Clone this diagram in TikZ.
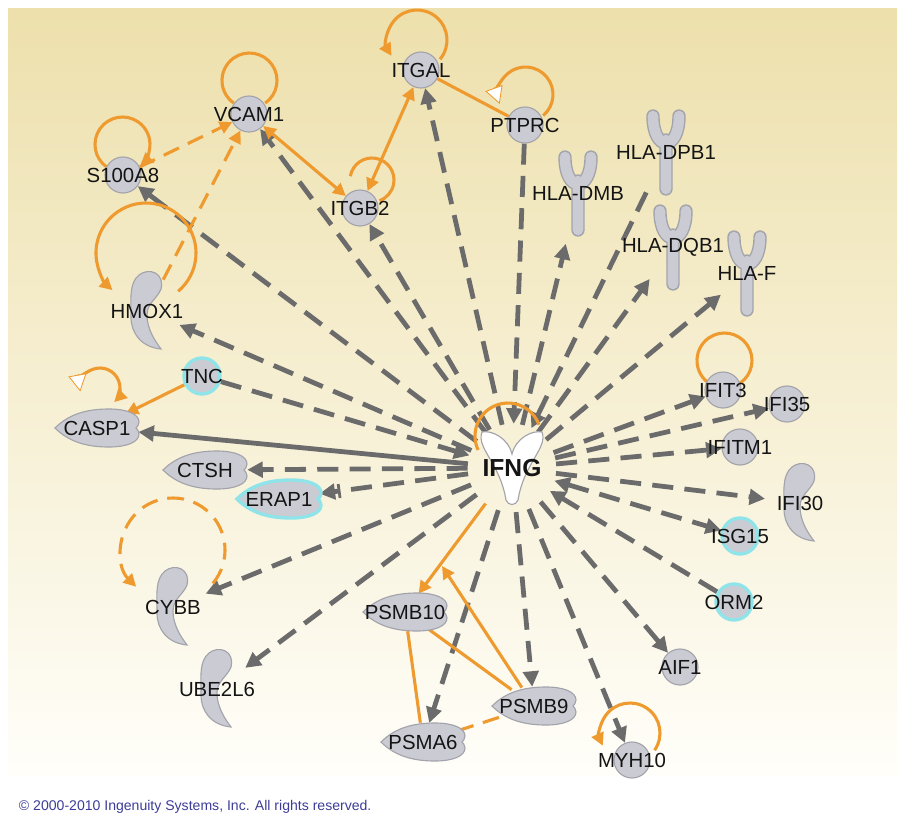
\documentclass[tikz,border=0pt]{standalone}
\usepackage{fontspec}
\setmainfont{Liberation Sans}
\usetikzlibrary{arrows.meta,shapes.geometric}
\pgfdeclarelayer{back}
\pgfdeclarelayer{links}
\pgfsetlayers{back,links,main}
\definecolor{linkgray}{HTML}{6B6B6B}
\definecolor{ipaorange}{HTML}{EE9A2E}
\definecolor{genegray}{HTML}{CBCBD3}
\definecolor{generim}{HTML}{A3A3AB}
\definecolor{fdrcyan}{HTML}{8FE4EA}
\definecolor{bgtop}{HTML}{EDE0AC}
\definecolor{bgmid}{HTML}{F8F3DC}
\definecolor{bgbot}{HTML}{FFFEF9}
\definecolor{copyblue}{HTML}{3D3D99}

\begin{document}
\begin{tikzpicture}[x=0.025cm,y=0.025cm,
    every label/.style={font=\fontsize{14.5}{16}\selectfont,text=black!92,inner sep=0pt},
    shapefill/.style={fill=genegray,draw=generim,line width=0.8pt},
    gene/.style={circle,minimum size=0.9cm,inner sep=0pt,shapefill},
    fdr/.style={draw=fdrcyan,line width=2.4pt},
    pept/.style={ellipse,minimum width=2.1cm,minimum height=0.95cm,inner sep=0pt},
    enz/.style={circle,minimum size=1.75cm,inner sep=0pt},
    recep/.style={ellipse,minimum width=1.4cm,minimum height=2.8cm,inner sep=0pt},
    hub/.style={circle,minimum size=2.2cm,inner sep=0pt},
    gtip/.tip={Triangle[length=11pt,width=11pt]},
    otip/.tip={Triangle[length=9pt,width=9pt]},
    wtip/.tip={Triangle[length=12pt,width=13pt,fill=white,line width=0.6pt]},
    glink/.style={linkgray,line width=3.4pt,dash pattern=on 15pt off 8pt,-{gtip}},
    olink/.style={ipaorange,line width=2.2pt},
    odash/.style={olink,dash pattern=on 12pt off 7pt},
    pics/peptide/.style={code={
      \path[shapefill,#1] (-42,0) .. controls (-28,14) and (-10,19) .. (12,19)
        .. controls (30,19) and (42,14) .. (42,6) .. controls (42,3) and (40,1) .. (39,0)
        .. controls (40,-1) and (42,-3) .. (42,-6) .. controls (42,-14) and (30,-19) .. (12,-19)
        .. controls (-10,-19) and (-28,-14) .. cycle;}},
    pics/peptide/.default={},
    pics/enzyme/.style={code={
      \path[shapefill] (-8,36) .. controls (2,44) and (18,38) .. (14,22)
        .. controls (10,12) and (0,8) .. (0,-4) .. controls (0,-18) and (8,-30) .. (14,-38)
        .. controls (-6,-36) and (-16,-22) .. (-16,-6) .. controls (-16,12) and (-18,28) .. cycle;}},
    pics/receptor/.style={code={
      \draw[generim,line width=9.5pt,line cap=round] (-13,36) .. controls (-13,0) and (13,0) .. (13,36) (0,12) -- (0,-37);
      \draw[genegray,line width=7.5pt,line cap=round] (-13,36) .. controls (-13,0) and (13,0) .. (13,36) (0,12) -- (0,-37);}},
    pics/ligand/.style={code={
      \path[fill=white,draw=generim,line width=0.8pt] (-30,36) .. controls (-36,20) and (-12,5) .. (-6,-32)
        .. controls (-4,-38) and (4,-38) .. (6,-32) .. controls (12,5) and (36,20) .. (30,36)
        .. controls (20,38) and (4,30) .. (0,14) .. controls (-4,30) and (-20,38) .. cycle;}},
  ]
  \useasboundingbox (0,0) rectangle (904,-818);
  \begin{pgfonlayer}{back}
    \shade[top color=bgtop,middle color=bgmid,bottom color=bgbot] (8,-8) rectangle (897,-775);
  \end{pgfonlayer}

  % hub
  \pic at (512,-468) {ligand};
  \node[hub,label={[font=\bfseries\fontsize{17.5}{19}\selectfont]center:IFNG}] (ifng) at (512,-468) {};

  % circles
  \node[gene,label=center:ITGAL]  (itgal)  at (421,-70) {};
  \node[gene,label=center:VCAM1]  (vcam1)  at (249,-114) {};
  \node[gene,label=center:S100A8] (s100a8) at (123,-175) {};
  \node[gene,label=center:ITGB2]  (itgb2)  at (360,-208) {};
  \node[gene,label=center:PTPRC]  (ptprc)  at (525,-125) {};
  \node[gene,fdr,label=center:TNC] (tnc)   at (202,-376) {};
  \node[gene,label=center:IFIT3]  (ifit3)  at (723,-390) {};
  \node[gene,label=center:IFI35]  (ifi35)  at (787,-404) {};
  \node[gene,label=center:IFITM1] (ifitm1) at (740,-447) {};
  \node[gene,fdr,label=center:ISG15] (isg15) at (740,-536) {};
  \node[gene,fdr,label=center:ORM2]  (orm2)  at (734,-602) {};
  \node[gene,label=center:AIF1]   (aif1)   at (680,-667) {};
  \node[gene,label=center:MYH10]  (myh10)  at (632,-760) {};

  % peptidases
  \pic at (97,-428) {peptide};  \node[pept,label=center:CASP1] (casp1) at (97,-428) {};
  \pic at (205,-470) {peptide}; \node[pept,label=center:CTSH] (ctsh) at (205,-470) {};
  \pic at (279,-499) {peptide={draw=fdrcyan,line width=2.4pt}}; \node[pept,label=center:ERAP1] (erap1) at (279,-499) {};
  \pic at (405,-612) {peptide}; \node[pept,label=center:PSMB10] (psmb10) at (405,-612) {};
  \pic at (423,-742) {peptide}; \node[pept,label=center:PSMA6] (psma6) at (423,-742) {};
  \pic at (534,-706) {peptide}; \node[pept,label=center:PSMB9] (psmb9) at (534,-706) {};
  \coordinate (psmb10in) at (442,-566);

  % enzymes
  \pic at (147,-311) {enzyme}; \node[enz,label=center:HMOX1] (hmox1) at (147,-311) {};
  \pic at (173,-607) {enzyme}; \node[enz,label=center:CYBB] (cybb) at (173,-607) {};
  \pic at (217,-689) {enzyme}; \node[enz,label=center:UBE2L6] (ube2l6) at (217,-689) {};
  \pic at (800,-503) {enzyme}; \node[enz,label=center:IFI30] (ifi30) at (800,-503) {};

  % receptors
  \pic at (578,-193) {receptor}; \node[recep,label=center:HLA-DMB] (hladmb) at (578,-193) {};
  \pic at (666,-152) {receptor}; \node[recep,label=center:HLA-DPB1] (hladpb1) at (666,-152) {};
  \pic at (673,-247) {receptor}; \node[recep,label=center:HLA-DQB1] (hladqb1) at (673,-247) {};
  \pic at (747,-273) {receptor}; \node[recep,label=center:HLA-F] (hlaf) at (747,-273) {};

  \node[anchor=west,font=\fontsize{10}{12}\selectfont,text=copyblue] (note) at (14,-807)
    {© 2000-2010 Ingenuity Systems, Inc. All rights reserved.};

  \begin{pgfonlayer}{links}
    % gray links
    \foreach \g in {itgal,vcam1,s100a8,itgb2,hmox1,hladmb,hladqb1,hlaf,ifit3,ifi35,
                    ifitm1,ifi30,aif1,myh10,psmb9,psma6,ube2l6,cybb,ctsh}
      \draw[glink] (ifng) -- (\g);
    \foreach \g in {ptprc,hladpb1,tnc,orm2}
      \draw[glink] (\g) -- (ifng);
    \draw[glink,{gtip}-{gtip}] (ifng) -- (isg15);
    \draw[glink,-{Bar[width=10pt,line width=2pt,sep=2pt] gtip}] (ifng) -- (erap1);
    \draw[glink,solid] (ifng) -- (casp1);

    % orange links
    \draw[odash,-{otip}] (s100a8) -- (vcam1);
    \draw[odash,-{otip}] (hmox1) -- (vcam1);
    \draw[olink,{otip}-{otip}] (vcam1) -- (itgb2);
    \draw[olink,{otip}-{otip}] (itgb2) -- (itgal);
    \draw[olink] (itgal) -- (ptprc);
    \draw[olink,-{otip}] (tnc) -- (casp1);
    \draw[olink,-{otip}] (ifng) -- (psmb10);
    \draw[olink,-{otip}] (psmb9) -- (psmb10in);
    \draw[olink] (psmb10) -- (psmb9);
    \draw[olink] (psmb10) -- (psma6);
    \draw[odash] (psma6) -- (psmb9);

    % self loops
    \draw[olink,-{otip}] ([shift={(-40:30)}]417,-40) arc[start angle=-40,end angle=212,radius=30];
    \draw[olink] ([shift={(-55:27.5)}]249.5,-80.5) arc[start angle=-55,end angle=235,radius=27.5];
    \draw[olink,-{otip}] ([shift={(235:27.5)}]122.5,-144.5) arc[start angle=235,end angle=-50,radius=27.5];
    \draw[olink] ([shift={(170:22)}]372,-180) arc[start angle=170,end angle=-70,radius=22];
    \draw[olink,-{otip}] ([shift={(-50:50)}]146,-253) arc[start angle=-50,end angle=228,radius=50];
    \draw[olink,-{wtip}] ([shift={(-50:27.5)}]525.5,-94.5) arc[start angle=-50,end angle=200,radius=27.5];
    \draw[olink,{wtip}-{otip}] ([shift={(190:20)}]100,-388) arc[start angle=190,end angle=-45,radius=20];
    \draw[olink] ([shift={(-55:27.5)}]724.5,-360.5) arc[start angle=-55,end angle=235,radius=27.5];
    \draw[olink,-{otip}] ([shift={(-35:30)}]630,-733) arc[start angle=-35,end angle=205,radius=30];
    \draw[olink] ([shift={(205:33)}]508,-436) arc[start angle=205,end angle=20,radius=33];
    \draw[odash,-{otip}] ([shift={(-40:52)}]173,-550) arc[start angle=-40,end angle=225,radius=52];
  \end{pgfonlayer}
\end{tikzpicture}
\end{document}
